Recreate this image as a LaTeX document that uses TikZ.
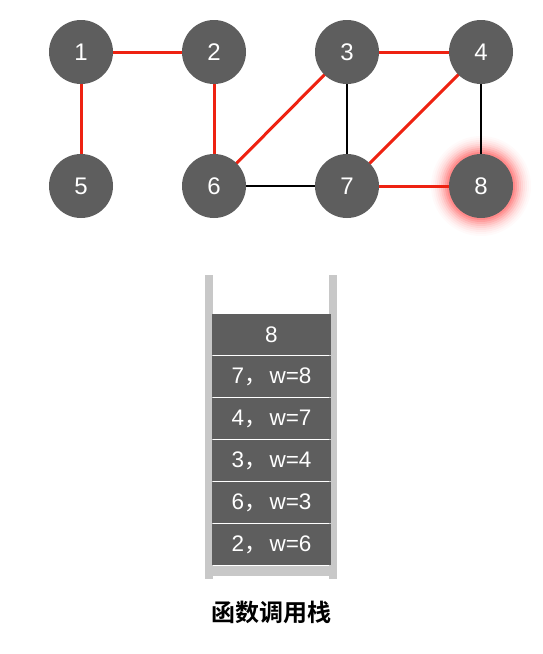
\documentclass[tikz,border=0pt]{standalone}
\usepackage{fontspec}
\setmainfont{Liberation Sans}
\newfontfamily\cjk{Noto Sans CJK SC}
\newfontfamily\cjkbold{Noto Sans CJK SC Bold}
\definecolor{nodegray}{HTML}{5E5E5E}
\definecolor{wallgray}{HTML}{C8C8C8}
\definecolor{edgered}{HTML}{EE2211}
\newcommand{\cm}{{\cjk ，}\hspace{3pt}}
\begin{document}
\begin{tikzpicture}[x=1pt,y=-1pt,
  vert/.style={circle,fill=nodegray,minimum size=64pt,inner sep=0pt,text=white,font=\fontsize{24}{24}\selectfont},
  redge/.style={edgered,line width=3pt},
  bedge/.style={black,line width=1.8pt},
  frame/.style={wallgray,fill=wallgray},
  cell/.style={fill=nodegray,draw=none,minimum width=119pt,minimum height=41pt,inner sep=0pt,text=white,font=\fontsize{22.5}{22.5}\selectfont}]
\useasboundingbox (0,0) rectangle (543,654);
% glow for 8
\foreach \r/\o in {50/0.02,48/0.025,46/0.035,44/0.045,42/0.06,40/0.075,38/0.09,36/0.11,34/0.13}
  \fill[red,opacity=\o] (481,186) circle (\r);
\coordinate (c1) at (81,52);
\coordinate (c2) at (214,52);
\coordinate (c3) at (347,52);
\coordinate (c4) at (481,52);
\coordinate (c5) at (81,186);
\coordinate (c6) at (214,186);
\coordinate (c7) at (347,186);
\coordinate (c8) at (481,186);
\draw[redge] (c1) -- (c2);
\draw[redge] (c1) -- (c5);
\draw[redge] (c2) -- (c6);
\draw[redge] (c6) -- (c3);
\draw[redge] (c3) -- (c4);
\draw[redge] (c4) -- (c7);
\draw[redge] (c7) -- (c8);
\draw[bedge] (c3) -- (c7);
\draw[bedge] (c6) -- (c7);
\draw[bedge] (c4) -- (c8);
\foreach \i in {1,...,8}
  \node[vert] (n\i) at (c\i) {\i};
% stack
\fill[frame] (205,275) rectangle (213,579);
\fill[frame] (329,275) rectangle (337,579);
\fill[frame] (213,566) rectangle (329,576);
\node[cell] (s1) at (271.5,334.5) {8};
\node[cell] (s2) at (271.5,376.5) {7\cm w=8};
\node[cell] (s3) at (271.5,418.5) {4\cm w=7};
\node[cell] (s4) at (271.5,460.5) {3\cm w=4};
\node[cell] (s5) at (271.5,502.5) {6\cm w=3};
\node[cell] (s6) at (271.5,544.5) {2\cm w=6};
\node[font=\cjkbold\fontsize{24}{24}\selectfont] (lbl) at (271,612) {函数调用栈};
\end{tikzpicture}
\end{document}
